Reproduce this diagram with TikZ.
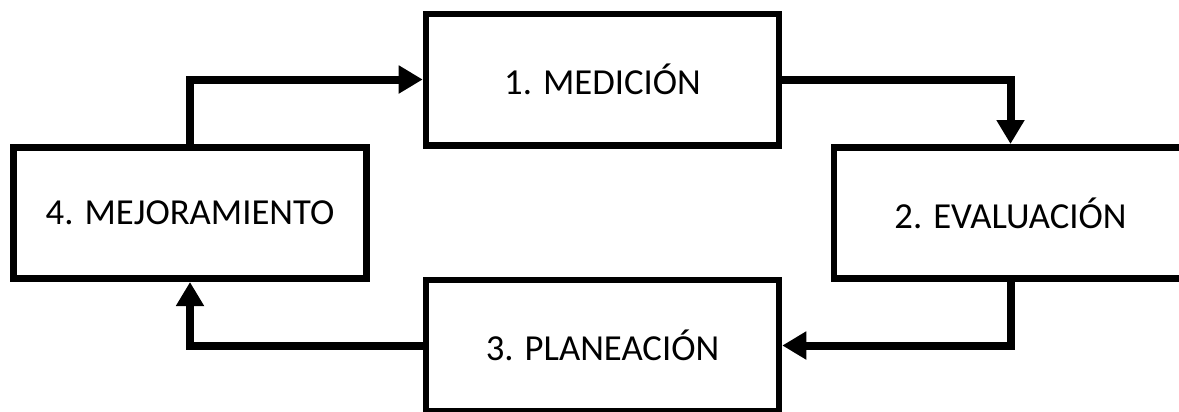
\documentclass[tikz,border=0pt]{standalone}
\usepackage{fontspec}
\setmainfont{Carlito}
\usetikzlibrary{arrows.meta}
\begin{document}
\begin{tikzpicture}[x=0.75pt,y=-0.75pt,
  stage/.style={draw=black, line width=4.9pt, fill=white, rectangle,
    minimum width=264.75pt, minimum height=98.6pt, inner sep=0pt,
    font=\fontsize{27.5}{33}\selectfont},
  conn/.style={line width=6pt, draw=black,
    -{Triangle[length=18pt,width=20pt]}}]
\useasboundingbox (0,0) rectangle (1179,411);
\clip (0,0) rectangle (1179,411);
\node[stage] (m1) at (602.5,79.5) {1. MEDICIÓN};
\node[stage] (m2) at (1010.5,213) {2. EVALUACIÓN};
\node[stage] (m3) at (602.5,345.5) {3. PLANEACIÓN};
\node[stage] (m4) at (190,213) {4. MEJORAMIENTO};
\draw[conn] (m4.north) |- (m1.west);
\draw[conn] (m1.east) -| (m2.north);
\draw[conn] (m2.south) |- (m3.east);
\draw[conn] (m3.west) -| (m4.south);
\end{tikzpicture}
\end{document}
